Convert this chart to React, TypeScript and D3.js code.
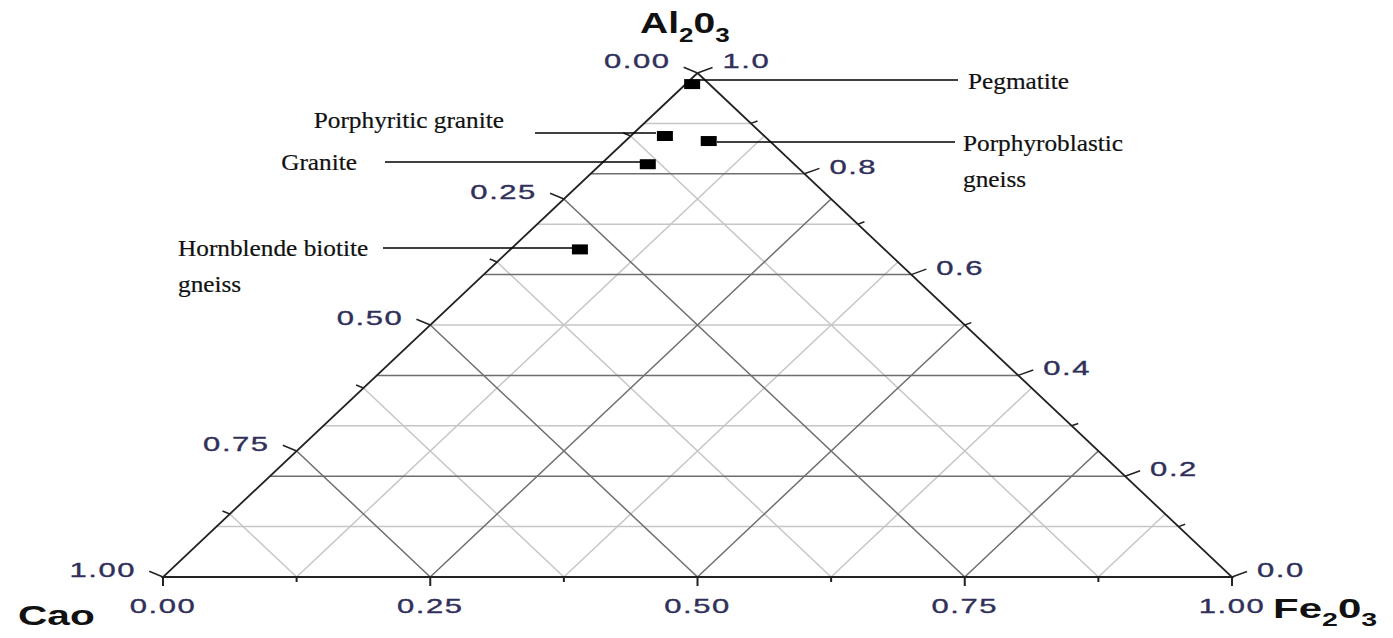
import React from "react";
import * as d3 from "d3";

// sample compositions (fractions of CaO, Al2O3, Fe2O3)
const samples = ["Pegmatite", "Porphyritic granite", "Porphyroblastic gneiss", "Granite", "Hornblende biotite gneiss"];
const caoValues = [0.016, 0.093, 0.057, 0.137, 0.285];
const al2o3Values = [0.978, 0.875, 0.865, 0.819, 0.650];
const fe2o3Values = [0.006, 0.032, 0.078, 0.044, 0.065];

// tick values on each side
const bottomMajor = [0, 0.25, 0.5, 0.75, 1];
const bottomMinor = [0.125, 0.375, 0.625, 0.875];
const bottomLabels = ["0.00", "0.25", "0.50", "0.75", "1.00"];
const leftMajor = [0, 0.25, 0.5, 0.75, 1];
const leftMinor = [0.125, 0.375, 0.625, 0.875];
const leftLabels = ["0.00", "0.25", "0.50", "0.75", "1.00"];
const rightMajor = [0, 0.2, 0.4, 0.6, 0.8, 1];
const rightMinor = [0.1, 0.3, 0.5, 0.7, 0.9];
const rightLabels = ["0.0", "0.2", "0.4", "0.6", "0.8", "1.0"];

// annotation layout
const notes = [
  { x1: 700, x2: 958, y: 80, tx: 968, ty: 89, anchor: "start", lines: ["Pegmatite"] },
  { x1: 535, x2: 656, y: 133, tx: 504, ty: 128, anchor: "end", lines: ["Porphyritic granite"] },
  { x1: 717, x2: 955, y: 142, tx: 963, ty: 151, anchor: "start", lines: ["Porphyroblastic", "gneiss"] },
  { x1: 385, x2: 640, y: 162, tx: 357, ty: 170, anchor: "end", lines: ["Granite"] },
  { x1: 383, x2: 572, y: 248, tx: 178, ty: 256, anchor: "start", lines: ["Hornblende biotite", "gneiss"] },
];

const W = 1393;
const H = 638;
const apex = { x: 697.5, y: 73 };
const BL = { x: 163, y: 577 };
const BR = { x: 1232, y: 577 };

const yAl = d3.scaleLinear().domain([0, 1]).range([BL.y, apex.y]);

function project(ca: number, al: number, fe: number): [number, number] {
  const s = ca + al + fe;
  const a = al / s, f = fe / s, c = ca / s;
  return [apex.x * a + BL.x * c + BR.x * f, yAl(a)];
}

const tickColor = "#30305a";
const sansFont = "'Liberation Sans', Arial, sans-serif";
const serifFont = "'Liberation Serif', 'Times New Roman', serif";

function STxt({ x, y, anchor, children, sx = 1.55, size = 20, weight = 400, spacing = 1, fill = tickColor, font = sansFont, stroke = 0.35 }: any) {
  return (
    <text
      transform={`translate(${x},${y}) scale(${sx},1)`}
      textAnchor={anchor}
      fontFamily={font}
      fontSize={size}
      fontWeight={weight}
      letterSpacing={spacing}
      fill={fill}
      stroke={stroke ? fill : "none"}
      strokeWidth={stroke}
    >
      {children}
    </text>
  );
}

export default function App() {
  const line = d3.line();
  const grid: { d: string; dark: boolean }[] = [];

  // horizontal lines (constant Al2O3)
  d3.range(1, 10).forEach((i) => {
    const v = i / 10;
    grid.push({ d: line([project(1 - v, v, 0), project(0, v, 1 - v)])!, dark: i % 2 === 0 });
  });
  // constant CaO lines
  d3.range(1, 8).forEach((i) => {
    const t = i / 8;
    grid.push({ d: line([project(t, 1 - t, 0), project(t, 0, 1 - t)])!, dark: i % 2 === 0 });
  });
  // constant Fe2O3 lines
  d3.range(1, 8).forEach((i) => {
    const f = i / 8;
    grid.push({ d: line([project(1 - f, 0, f), project(0, 1 - f, f)])!, dark: i % 2 === 0 });
  });

  const tri = line([[apex.x, apex.y], [BL.x, BL.y], [BR.x, BR.y], [apex.x, apex.y]])!;

  const leftDir = [-0.92, -0.38];
  const rightDir = [0.94, -0.34];

  return (
    <svg width={W} height={H} style={{ position: "absolute", left: 0, top: 0, background: "#fff" }}>
      <g>
        {grid.filter((g) => !g.dark).map((g, i) => (
          <path key={"l" + i} d={g.d} stroke="#c6c6c6" strokeWidth={1.5} fill="none" />
        ))}
        {grid.filter((g) => g.dark).map((g, i) => (
          <path key={"d" + i} d={g.d} stroke="#6e6e6e" strokeWidth={1.5} fill="none" />
        ))}
      </g>
      <path d={tri} stroke="#222" strokeWidth={1.8} fill="none" />

      {/* bottom axis (Fe2O3) */}
      {bottomMajor.map((v, i) => {
        const [x, y] = project(1 - v, 0, v);
        return (
          <g key={"b" + i}>
            <line x1={x} x2={x} y1={y} y2={y + 9} stroke="#222" strokeWidth={2} />
            <STxt x={x} y={y + 36} anchor="middle">{bottomLabels[i]}</STxt>
          </g>
        );
      })}
      {bottomMinor.map((v, i) => {
        const [x, y] = project(1 - v, 0, v);
        return <line key={"bm" + i} x1={x} x2={x} y1={y} y2={y + 5} stroke="#222" strokeWidth={2} />;
      })}

      {/* left axis (CaO) */}
      {leftMajor.map((v, i) => {
        const [x, y] = project(v, 1 - v, 0);
        return (
          <g key={"lt" + i}>
            <line x1={x} y1={y} x2={x + leftDir[0] * 15} y2={y + leftDir[1] * 15} stroke="#222" strokeWidth={1.5} />
            <STxt x={x - 27} y={i === 0 ? y - 5 : y} anchor="end">{leftLabels[i]}</STxt>
          </g>
        );
      })}
      {leftMinor.map((v, i) => {
        const [x, y] = project(v, 1 - v, 0);
        return <line key={"lm" + i} x1={x} y1={y} x2={x + leftDir[0] * 8} y2={y + leftDir[1] * 8} stroke="#222" strokeWidth={1.5} />;
      })}

      {/* right axis (Al2O3) */}
      {rightMajor.map((v, i) => {
        const [x, y] = project(0, v, 1 - v);
        return (
          <g key={"rt" + i}>
            <line x1={x} y1={y} x2={x + rightDir[0] * 16} y2={y + rightDir[1] * 16} stroke="#222" strokeWidth={1.5} />
            <STxt x={x + 25} y={i === rightMajor.length - 1 ? y - 5 : y} anchor="start">{rightLabels[i]}</STxt>
          </g>
        );
      })}
      {rightMinor.map((v, i) => {
        const [x, y] = project(0, v, 1 - v);
        return <line key={"rm" + i} x1={x} y1={y} x2={x + rightDir[0] * 7} y2={y + rightDir[1] * 7} stroke="#222" strokeWidth={1.5} />;
      })}

      {/* axis titles */}
      <text transform="translate(640,33) scale(1.3,1)" fontFamily={sansFont} fontWeight={700} fontSize={30} fill="#111">
        Al<tspan fontSize={20} dy={9}>2</tspan><tspan dy={-9}>0</tspan><tspan fontSize={20} dy={9}>3</tspan>
      </text>
      <STxt x={18} y={625} anchor="start" size={28} weight={700} spacing={0} sx={1.45} fill="#111" stroke={0}>Cao</STxt>
      <text transform="translate(1273,618) scale(1.5,1)" fontFamily={sansFont} fontWeight={700} fontSize={28} fill="#111">
        Fe<tspan fontSize={19} dy={8}>2</tspan><tspan dy={-8}>0</tspan><tspan fontSize={19} dy={8}>3</tspan>
      </text>

      {/* annotations */}
      {notes.map((n, i) => (
        <g key={"n" + i}>
          <line x1={n.x1} x2={n.x2} y1={n.y} y2={n.y} stroke="#000" strokeWidth={1.6} />
          {n.lines.map((t, j) => (
            <STxt key={j} x={n.tx} y={n.ty + j * 36} anchor={n.anchor} size={23} spacing={0} sx={1.1} fill="#111" font={serifFont} stroke={0.2}>{t}</STxt>
          ))}
        </g>
      ))}

      {/* sample points */}
      {samples.map((s, i) => {
        const [x, y] = project(caoValues[i], al2o3Values[i], fe2o3Values[i]);
        return <rect key={s} x={x - 8} y={y - 5} width={16} height={10} fill="#000" />;
      })}
    </svg>
  );
}
